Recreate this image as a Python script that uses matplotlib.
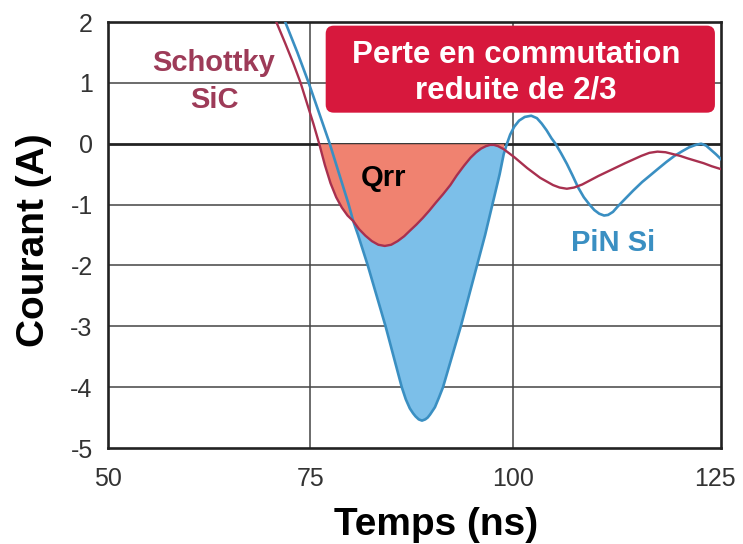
import matplotlib.pyplot as plt
import numpy as np
from matplotlib.patches import FancyBboxPatch

plt.rcParams['font.family'] = ['Liberation Sans', 'DejaVu Sans']
plt.rcParams['axes.unicode_minus'] = False

# Schottky SiC diode current (ns, A)
t_sic = [70.8, 71.9, 72.9, 73.8, 74.6, 75.4, 76.1, 76.8, 77.5, 78.2, 78.9,
         79.6, 80.3, 81.0, 81.8, 82.6, 83.4, 84.2, 85.0, 85.8, 86.6, 87.3,
         88.1, 88.9, 89.7, 90.5, 91.4, 92.3, 93.1, 94.0, 94.8, 95.5, 96.1,
         96.7, 97.2, 97.7, 98.2, 98.9, 99.5, 100.2, 101.0, 101.8, 102.6,
         103.4, 104.2, 105.0, 105.8, 106.7, 107.6, 108.6, 109.6, 110.6,
         111.7, 112.8, 113.9, 114.9, 115.9, 116.9, 117.9, 118.9, 119.8,
         120.7, 121.6, 122.6, 123.6, 124.6, 125.8]
i_sic = [2.0, 1.65, 1.32, 1.0, 0.66, 0.32, 0.0, -0.35, -0.65, -0.88, -1.05,
         -1.18, -1.27, -1.4, -1.51, -1.6, -1.66, -1.68, -1.66, -1.6, -1.52,
         -1.43, -1.33, -1.22, -1.1, -0.97, -0.83, -0.68, -0.52, -0.36, -0.23,
         -0.14, -0.08, -0.04, -0.02, -0.02, -0.04, -0.09, -0.15, -0.22,
         -0.31, -0.4, -0.48, -0.56, -0.62, -0.68, -0.72, -0.74, -0.72,
         -0.67, -0.6, -0.53, -0.46, -0.39, -0.32, -0.26, -0.2, -0.15, -0.13,
         -0.14, -0.17, -0.2, -0.24, -0.28, -0.32, -0.37, -0.42]

# PiN Si diode current
t_pin = [71.9, 73.4, 74.8, 76.1, 77.4, 78.5, 79.7, 80.3, 80.9, 82.1, 83.2,
         84.3, 85.3, 86.3, 86.8, 87.3, 87.7, 88.0, 88.4, 88.8, 89.2, 89.5,
         89.8, 90.4, 90.9, 91.4, 92.5, 93.6, 94.6, 95.6, 96.6, 97.5, 98.4,
         98.9, 99.3, 99.7, 100.2, 100.8, 101.5, 102.3, 103.0, 103.6, 104.2,
         104.8, 105.3, 106.0, 106.7, 107.4, 108.1, 108.8, 109.5, 110.1,
         110.7, 111.3, 111.8, 112.4, 113.0, 113.8, 114.9, 116.0, 117.0,
         117.9, 119.0, 120.0, 121.0, 121.8, 122.6, 123.3, 123.9, 124.5,
         125.1, 125.8]
i_pin = [2.0, 1.5, 1.0, 0.5, 0.0, -0.47, -0.98, -1.27, -1.5, -2.0, -2.5,
         -3.0, -3.5, -4.0, -4.2, -4.35, -4.43, -4.48, -4.53, -4.55, -4.53,
         -4.5, -4.45, -4.33, -4.17, -4.0, -3.5, -3.0, -2.5, -2.0, -1.5,
         -1.0, -0.5, -0.17, 0.0, 0.15, 0.28, 0.38, 0.44, 0.46, 0.42, 0.33,
         0.22, 0.09, 0.0, -0.16, -0.33, -0.52, -0.72, -0.88, -1.0, -1.09,
         -1.15, -1.18, -1.17, -1.12, -1.03, -0.92, -0.77, -0.63, -0.52,
         -0.42, -0.3, -0.2, -0.12, -0.06, -0.02, 0.0, -0.03, -0.1, -0.17,
         -0.26]

x_ticks = [50, 75, 100, 125]
y_ticks = [-5, -4, -3, -2, -1, 0, 1, 2]

red_line = '#a8304f'
blue_line = '#3a8fc2'

t_sic = np.array(t_sic)
i_sic = np.array(i_sic)
t_pin = np.array(t_pin)
i_pin = np.array(i_pin)

fig = plt.figure(figsize=(7.43, 5.44), dpi=100)
ax = fig.add_axes([108 / 743, 96 / 544, 613 / 743, 426 / 544])

# grid
for yv in [-4, -3, -2, -1, 1]:
    ax.axhline(yv, color='#444444', lw=1.1, zorder=1)
for xv in [75, 100]:
    ax.axvline(xv, color='#444444', lw=1.1, zorder=1)
ax.axhline(0, color='#222222', lw=2.0, zorder=1)

# Qrr areas
m = (t_sic >= 76.1) & (t_sic <= 98.9)
ax.fill_between(t_sic[m], i_sic[m], 0, color='#f08270', lw=0, zorder=2)
mb = (t_pin >= 80.3) & (t_pin <= 98.9)
ms = (t_sic >= 80.3) & (t_sic <= 98.9)
ax.fill(np.concatenate([t_pin[mb], t_sic[ms][::-1]]),
        np.concatenate([i_pin[mb], i_sic[ms][::-1]]),
        color='#7cbfe9', lw=0, zorder=3)

ax.plot(t_pin, i_pin, color=blue_line, lw=1.9, zorder=4, solid_joinstyle='round')
ax.plot(t_sic, i_sic, color=red_line, lw=1.7, zorder=5, solid_joinstyle='round')

ax.set_xlim(50, 125.75)
ax.set_ylim(-5, 2)
ax.set_xticks(x_ticks)
ax.set_yticks(y_ticks)
ax.tick_params(length=0, labelsize=18, labelcolor='#333333')
ax.tick_params(axis='x', pad=14)
ax.tick_params(axis='y', pad=11)
for s in ax.spines.values():
    s.set_linewidth(1.9)
    s.set_color('#222222')

ax.set_xlabel('Temps (ns)', fontsize=28, fontweight='bold', va='baseline')
ax.xaxis.set_label_coords(0.535, -0.204)
ax.set_ylabel('Courant (A)', fontsize=28, fontweight='bold', va='baseline')
ax.yaxis.set_label_coords(-0.104, 0.488)

# annotations
box = FancyBboxPatch((76.9, 0.51), 48.1, 1.43,
                     boxstyle='round,pad=0,rounding_size=1.0',
                     mutation_aspect=8.09 / 60.9,
                     fc='#d7183d', ec='none', zorder=6)
ax.add_patch(box)
ax.text(100.4, 1.334, 'Perte en commutation', color='white', fontsize=22.5,
        fontweight='bold', ha='center', va='baseline', zorder=7)
ax.text(100.4, 0.741, 'reduite de 2/3', color='white', fontsize=22.5,
        fontweight='bold', ha='center', va='baseline', zorder=7)

ax.text(63.1, 1.20, 'Schottky', color='#9d3b58', fontsize=21,
        fontweight='bold', ha='center', va='baseline', zorder=7)
ax.text(63.1, 0.58, 'SiC', color='#9d3b58', fontsize=21,
        fontweight='bold', ha='center', va='baseline', zorder=7)
ax.text(84.1, -0.69, 'Qrr', color='black', fontsize=21,
        fontweight='bold', ha='center', va='baseline', zorder=7)
ax.text(112.4, -1.76, 'PiN Si', color=blue_line, fontsize=21,
        fontweight='bold', ha='center', va='baseline', zorder=7)

plt.savefig('out.png', dpi=100)
plt.close()
